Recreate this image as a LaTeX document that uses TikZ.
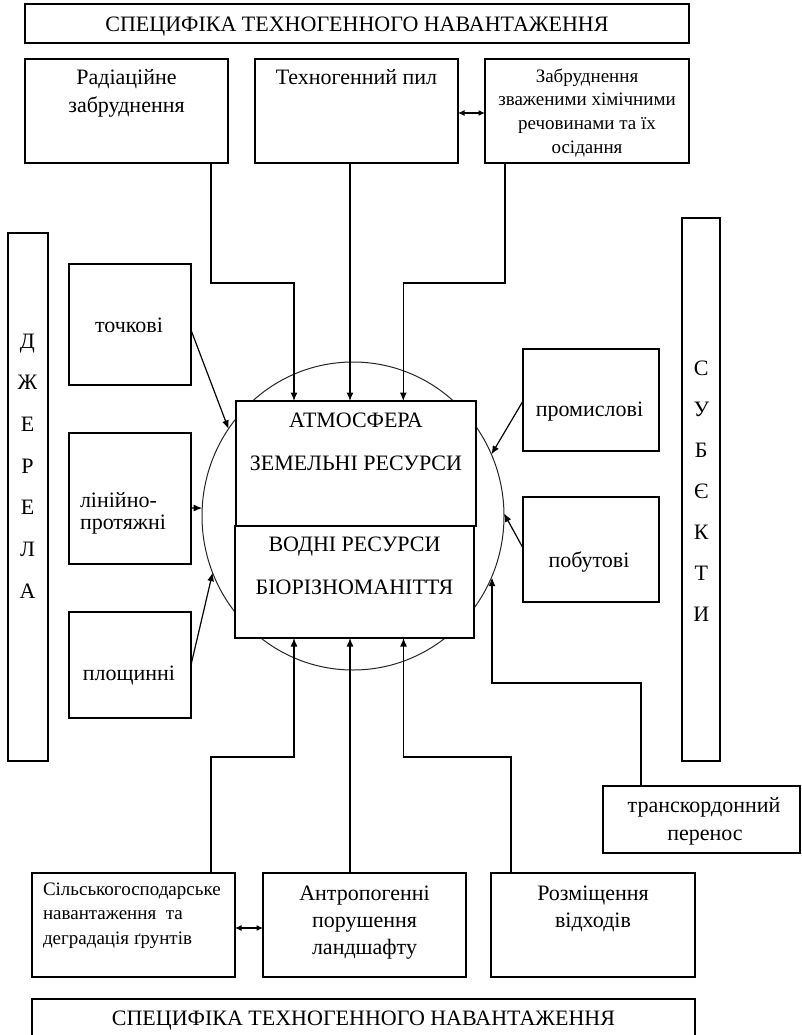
\documentclass[tikz,border=0pt]{standalone}
\usepackage{fontspec}
\setmainfont{Liberation Serif}
\usetikzlibrary{arrows.meta,shapes.geometric}
\begin{document}
\begin{tikzpicture}[x=1pt,y=-1pt,
 every node/.style={inner sep=0pt, outer sep=0pt},
 bx/.style={draw=black, line width=1.2pt, fill=white, rectangle},
 tx/.style={anchor=base, font=\fontsize{22}{26}\selectfont},
 sx/.style={anchor=base, font=\fontsize{19}{22}\selectfont},
 ar/.style={line width=1.2pt, -{Latex[length=8.5pt,width=7pt]}},
 dar/.style={line width=1.2pt, {Latex[length=6.5pt,width=6pt]}-{Latex[length=6.5pt,width=6pt]}}]
\useasboundingbox (0,0) rectangle (801,1035);
\clip (0,0) rectangle (801,1035);
\fill[white] (0,0) rectangle (801,1035);

% top
\node[bx, minimum width=664, minimum height=39] (t1) at (357,23.5) {};
\node[tx] (t1T) at (357,31.7) {СПЕЦИФІКА ТЕХНОГЕННОГО НАВАНТАЖЕННЯ};
\node[bx, minimum width=203, minimum height=104] (rad) at (126.5,111) {};
\node[tx] (radT1) at (126.5,85) {Радіаційне};
\node[tx] (radT2) at (126.5,113) {забруднення};
\node[bx, minimum width=203, minimum height=104] (pil) at (356.5,111) {};
\node[tx] (pilT) at (356.5,85) {Техногенний пил};
\node[bx, minimum width=204, minimum height=104] (zab) at (587,111) {};
\node[sx] (zabT1) at (587,82.3) {Забруднення};
\node[sx] (zabT2) at (587,106) {зваженими хімічними};
\node[sx] (zabT3) at (587,130) {речовинами та їх};
\node[sx] (zabT4) at (587,153.5) {осідання};

% left
\node[bx, minimum width=40, minimum height=528] (dzh) at (28,497) {};
\foreach \c [count=\i] in {Д,Ж,Е,Р,Е,Л,А}
  \node[tx] (dzh\i) at (27.5,{348.3+41.67*(\i-1)}) {\c};
\node[bx, minimum width=122, minimum height=121] (toch) at (130,324.5) {};
\node[tx] (tochT) at (129,332) {точкові};
\node[bx, minimum width=122, minimum height=131] (lin) at (130,498.5) {};
\node[tx, anchor=base west] (linT1) at (80,507) {лінійно-};
\node[tx, anchor=base west] (linT2) at (80,529) {протяжні};
\node[bx, minimum width=122, minimum height=106] (plo) at (130,665) {};
\node[tx] (ploT) at (129,680) {площинні};

% centre
\node[draw=black!85, line width=1pt, ellipse, minimum width=302, minimum height=308] (circ) at (353,516) {};
\node[bx, minimum width=240, minimum height=125] (atm) at (356,463.5) {};
\node[tx] (atmT1) at (356,427.3) {АТМОСФЕРА};
\node[tx] (atmT2) at (356,470) {ЗЕМЕЛЬНІ РЕСУРСИ};
\node[bx, minimum width=239, minimum height=112] (vod) at (354.5,582) {};
\node[tx] (vodT1) at (354.5,551.7) {ВОДНІ РЕСУРСИ};
\node[tx] (vodT2) at (354.5,594) {БІОРІЗНОМАНІТТЯ};

% right
\node[bx, minimum width=136, minimum height=102] (prom) at (591,400) {};
\node[tx] (promT) at (589.5,416.7) {промислові};
\node[bx, minimum width=136, minimum height=105] (pob) at (591,549.5) {};
\node[tx] (pobT) at (589,567) {побутові};
\node[bx, minimum width=38, minimum height=543] (sub) at (701,489.5) {};
\foreach \c [count=\i] in {С,У,Б,Є,К,Т,И}
  \node[tx] (sub\i) at (701.3,{375+41.1*(\i-1)}) {\c};
\node[bx, minimum width=197, minimum height=67] (tra) at (701.5,819.5) {};
\node[tx] (traT1) at (704,812.7) {транскордонний};
\node[tx] (traT2) at (705,840) {перенос};

% bottom
\node[bx, minimum width=203, minimum height=104] (sil) at (133.5,925) {};
\node[sx, anchor=base west] (silT1) at (43,895) {Сільськогосподарське};
\node[sx, anchor=base west] (silT2) at (43,919) {навантаження\ \ та};
\node[sx, anchor=base west] (silT3) at (43,944) {деградація ґрунтів};
\node[bx, minimum width=203, minimum height=104] (ant) at (364.5,925) {};
\node[tx] (antT1) at (364.5,900) {Антропогенні};
\node[tx] (antT2) at (364.5,927) {порушення};
\node[tx] (antT3) at (364.5,954) {ландшафту};
\node[bx, minimum width=204, minimum height=104] (roz) at (593,925) {};
\node[tx] (rozT1) at (593,900) {Розміщення};
\node[tx] (rozT2) at (593,927) {відходів};
\node[bx, minimum width=663, minimum height=60] (t2) at (363.5,1029) {};
\node[tx] (t2T) at (363.5,1025) {СПЕЦИФІКА ТЕХНОГЕННОГО НАВАНТАЖЕННЯ};

% connectors top
\coordinate (a1) at (211,283); \coordinate (a2) at (294,283);
\draw[ar] (rad.south -| a1) -- (a1) -- (a2) -- (atm.north -| a2);
\coordinate (b1) at (350,283);
\draw[ar] (pil.south -| b1) -- (atm.north -| b1);
\coordinate (c1) at (505,283); \coordinate (c2) at (403.3,283);
\draw[ar] (zab.south -| c1) -- (c1) -- (c2) -- (atm.north -| c2);
\draw[dar] ([yshift=-2pt]pil.east) -- ([yshift=-2pt]zab.west);

% connectors left / right
\draw[ar] ([yshift=-5.5pt]toch.east) -- (circ.145.5);
\draw[ar] ([yshift=-9.5pt]lin.east) -- (circ.177);
\draw[ar] (plo.east) -- (circ.202.2);
\draw[ar] ([yshift=-1pt]prom.west) -- (circ.24.2);
\draw[ar] ([yshift=1.5pt]pob.west) -- (circ.1.9);
\coordinate (d1) at (641,683); \coordinate (d2) at (492,683);
\draw[ar] (tra.north -| d1) -- (d1) -- (d2) -- (d2 |- circ.336.7);

% connectors bottom
\coordinate (e1) at (211,757); \coordinate (e2) at (294,757);
\draw[ar] (sil.north -| e1) -- (e1) -- (e2) -- (vod.south -| e2);
\coordinate (f1) at (350,757);
\draw[ar] (ant.north -| f1) -- (vod.south -| f1);
\coordinate (g1) at (511,757); \coordinate (g2) at (403.5,757);
\draw[ar] (roz.north -| g1) -- (g1) -- (g2) -- (vod.south -| g2);
\draw[dar] ([yshift=-3pt]sil.east) -- ([yshift=-3pt]ant.west);
\end{tikzpicture}
\end{document}
